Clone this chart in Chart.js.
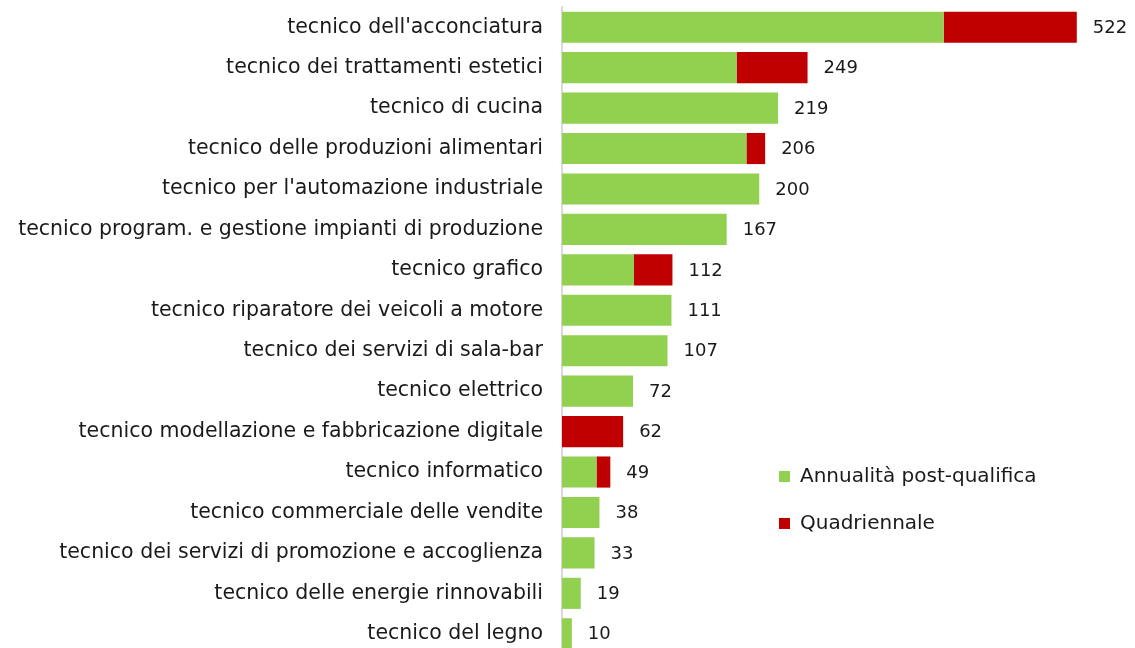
<!DOCTYPE html>
<html>
<head>
<meta charset="utf-8">
<script src="https://cdn.jsdelivr.net/npm/chart.js@4/dist/chart.umd.min.js"></script>
<style>
  html, body { margin: 0; padding: 0; background: #fff; overflow: hidden; }
  #wrap { position: relative; width: 1135px; height: 655px; }
</style>
</head>
<body>
<div id="wrap"><canvas id="bars"></canvas></div>
<script>
/* Categorie e valori */
const categories = [
  "tecnico dell'acconciatura",
  "tecnico dei trattamenti estetici",
  "tecnico di cucina",
  "tecnico delle produzioni alimentari",
  "tecnico per l'automazione industriale",
  "tecnico program. e gestione impianti di produzione",
  "tecnico grafico",
  "tecnico riparatore dei veicoli a motore",
  "tecnico dei servizi di sala-bar",
  "tecnico elettrico",
  "tecnico modellazione e fabbricazione digitale",
  "tecnico informatico",
  "tecnico commerciale delle vendite",
  "tecnico dei servizi di promozione e accoglienza",
  "tecnico delle energie rinnovabili",
  "tecnico del legno",
];
const postQualifica = [387, 177, 219, 187, 200, 167, 73, 111, 107, 72, 0, 35, 38, 33, 19, 10];
const quadriennale = [135, 72, 0, 19, 0, 0, 39, 0, 0, 0, 62, 14, 0, 0, 0, 0];

const FONT = "'DejaVu Sans', sans-serif";

// totali a fine barra
const totalsPlugin = {
  id: "totals",
  afterDatasetsDraw(chart) {
    const ctx = chart.ctx;
    const last = chart.getDatasetMeta(chart.data.datasets.length - 1);
    ctx.save();
    ctx.font = "18px " + FONT;
    ctx.fillStyle = "#1a1a1a";
    ctx.textBaseline = "middle";
    ctx.textAlign = "left";
    last.data.forEach((bar, i) => {
      const total = postQualifica[i] + quadriennale[i];
      ctx.fillText(String(total), bar.x + 16, bar.y + 1);
    });
    ctx.restore();
  },
};

// legenda disegnata a mano in basso a destra
const legendPlugin = {
  id: "sideLegend",
  afterDraw(chart) {
    const ctx = chart.ctx;
    ctx.save();
    ctx.font = "20px " + FONT;
    ctx.textBaseline = "middle";
    chart.data.datasets.forEach((ds, i) => {
      const y = 477 + i * 47;
      ctx.fillStyle = ds.backgroundColor;
      ctx.fillRect(779, y - 6, 11, 11);
      ctx.fillStyle = "#1a1a1a";
      ctx.fillText(ds.label, 800, y);
    });
    ctx.restore();
  },
};

new Chart(document.getElementById("bars"), {
  type: "bar",
  data: {
    labels: categories,
    datasets: [
      {
        label: "Annualità post-qualifica",
        data: postQualifica,
        backgroundColor: "#92d050",
        barPercentage: 0.77,
        categoryPercentage: 1,
      },
      {
        label: "Quadriennale",
        data: quadriennale,
        backgroundColor: "#c00000",
        barPercentage: 0.77,
        categoryPercentage: 1,
      },
    ],
  },
  options: {
    indexAxis: "y",
    responsive: true,
    maintainAspectRatio: false,
    animation: false,
    layout: { padding: { top: 7, right: 1, bottom: 1, left: 0 } },
    plugins: {
      legend: { display: false },
      tooltip: { enabled: false },
    },
    scales: {
      x: {
        stacked: true,
        min: 0,
        max: 580,
        display: false,
      },
      y: {
        stacked: true,
        afterFit(scale) {
          scale.width = 562;
          scale.paddingTop = 0;
          scale.paddingBottom = 0;
        },
        grid: { display: false, drawTicks: false },
        border: { display: true, color: "#d9d9d9", width: 2 },
        ticks: {
          padding: 19,
          color: "#1a1a1a",
          font: { family: FONT, size: 20.5 },
        },
      },
    },
  },
  plugins: [totalsPlugin, legendPlugin],
});
</script>
</body>
</html>
